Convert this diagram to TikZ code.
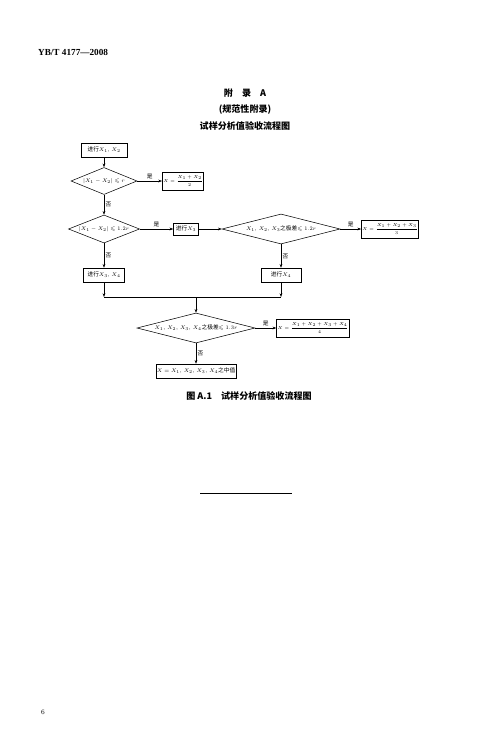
\documentclass[tikz,border=0pt]{standalone}
\usepackage{amsmath,amssymb}
\usepackage{fontspec}
\newfontfamily\cjk{Noto Sans CJK SC}
\newfontfamily\codefont{Liberation Serif}
\usetikzlibrary{arrows.meta,shapes.geometric}
\newcommand\diag{\fontsize{6.5}{8}\selectfont}
\newcommand\resfont{\fontsize{5.5}{7}\selectfont}
\newcommand\head{\cjk\bfseries\fontsize{10.3}{12}\selectfont}
\tikzset{
  >={Stealth[length=1.5mm,width=1.1mm]},
  proc/.style={draw,line width=0.6pt,inner sep=1pt,minimum height=0.56cm,font=\diag},
  res/.style={draw,line width=0.8pt,inner sep=1pt,minimum height=0.72cm,font=\resfont},
  test/.style={draw,diamond,aspect=4,line width=0.6pt,inner sep=0pt,font=\diag},
  flow/.style={->,line width=0.55pt},
  tag/.style={font=\diag\cjk,inner sep=1.5pt},
}
\begin{document}
\begin{tikzpicture}[x=0.04cm,y=-0.04cm]
\useasboundingbox (0,0) rectangle (500,730);
% page furniture
\node[anchor=west,font=\codefont\bfseries\fontsize{10.5}{12}\selectfont] (code) at (35,52) {YB/T 4177—2008};
\node[font=\head] (app) at (245,93) {附\quad 录\quad A};
\node[font=\head] (kind) at (245,110) {(规范性附录)};
\node[font=\head] (ttl) at (245,126) {试样分析值验收流程图};

% flow chart
\node[proc,minimum width=1.84cm] (s12) at (104,150) {{\cjk 进行}$X_1$, $X_2$};
\node[test,minimum width=2.64cm,minimum height=1.08cm] (d1) at (104,181) {$|X_1-X_2|\leqslant r$};
\node[res,minimum width=1.36cm] (r2) at (183,181) {$X=\dfrac{X_1+X_2}{2}$};
\node[test,minimum width=2.56cm,minimum height=1.12cm] (d2) at (104,229) {$|X_1-X_2|\leqslant 1.2r$};
\node[proc,minimum width=1.0cm,minimum height=0.48cm] (s3) at (186,229) {{\cjk 进行}$X_3$};
\node[test,minimum width=4.72cm,minimum height=1.2cm] (d3) at (281,229)
  {$X_1$, $X_2$, $X_3${\cjk 之极差}$\leqslant 1.2r$};
\node[res,minimum width=1.88cm] (r3) at (390,229) {$X=\dfrac{X_1+X_2+X_3}{3}$};
\node[proc,minimum width=1.64cm] (s34) at (104,275) {{\cjk 进行}$X_3$, $X_4$};
\node[proc,minimum width=1.6cm] (s4) at (281,275) {{\cjk 进行}$X_4$};
\coordinate (mrg) at (196,297);
\node[test,minimum width=4.72cm,minimum height=1.2cm] (d4) at (196,328)
  {$X_1$, $X_2$, $X_3$, $X_4${\cjk 之极差}$\leqslant 1.3r$};
\node[res,minimum width=2.36cm] (r4) at (313,328) {$X=\dfrac{X_1+X_2+X_3+X_4}{4}$};
\node[proc,minimum width=3.0cm] (med) at (196,371) {$X=X_1$, $X_2$, $X_3$, $X_4${\cjk 之中值}};

\draw[flow] (s12) -- (d1);
\draw[flow] (d1) -- node[tag,above]{是} (r2);
\draw[flow] (d1) -- node[tag,right]{否} (d2);
\draw[flow] (d2) -- node[tag,above]{是} (s3);
\draw[flow] (s3) -- (d3);
\draw[flow] (d3) -- node[tag,above]{是} (r3);
\draw[flow] (d3) -- node[tag,right]{否} (s4);
\draw[flow] (d2) -- node[tag,right]{否} (s34);
\draw[flow] (s34) -- (s34 |- mrg);
\draw[flow] (s4) -- (s4 |- mrg);
\draw[line width=0.55pt] (s34 |- mrg) -- (s4 |- mrg);
\draw[flow] (mrg) -- (d4);
\draw[flow] (d4) -- node[tag,above]{是} (r4);
\draw[flow] (d4) -- node[tag,right]{否} (med);

\node[font=\head] (cap) at (249,396) {图 A.1\quad 试样分析值验收流程图};
\draw[line width=0.8pt] (200,493) -- (292,493);
\node[font=\fontsize{8}{10}\selectfont] (pg) at (43,712) {6};
\end{tikzpicture}
\end{document}
